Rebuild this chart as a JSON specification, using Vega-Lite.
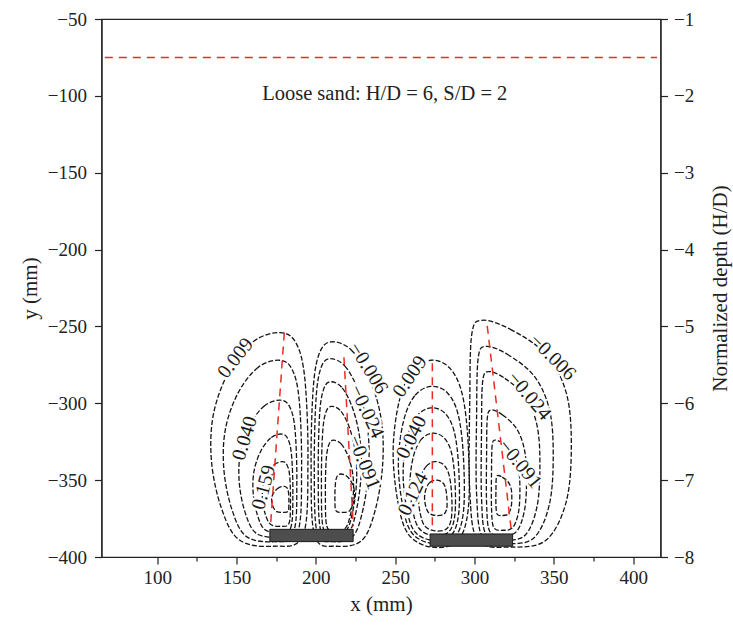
{
"$schema": "https://vega.github.io/schema/vega-lite/v6.json",
"width": 559, "height": 538,
"autosize": "none",
"padding": {"left": 101.5, "top": 19, "right": 72.5, "bottom": 68},
"config": {"font": "Liberation Serif", "view": {"stroke": "#222", "strokeWidth": 1.2},
  "axis": {"grid": false, "domainColor": "#222", "domainWidth": 1.2, "tickColor": "#222", "tickWidth": 1.2, "labelColor": "#222", "titleColor": "#222", "labelFontSize": 19, "titleFontSize": 21, "titleFontWeight": "normal", "labelFlush": false, "labelOverlap": false}},
"datasets": {
"contours": [
{"c":"A1","i":0,"x":177.6,"y":-254},{"c":"A1","i":1,"x":160.9,"y":-259.6},{"c":"A1","i":2,"x":145.4,"y":-279},{"c":"A1","i":3,"x":135.5,"y":-306.8},{"c":"A1","i":4,"x":134.2,"y":-337.4},{"c":"A1","i":5,"x":140.4,"y":-368},{"c":"A1","i":6,"x":151.6,"y":-388.8},{"c":"A1","i":7,"x":173.3,"y":-393},{"c":"A1","i":8,"x":191.9,"y":-386},{"c":"A1","i":9,"x":195,"y":-337.4},{"c":"A1","i":10,"x":193.1,"y":-284.6},{"c":"A1","i":11,"x":187.6,"y":-261},
{"c":"A2","i":0,"x":177,"y":-272},{"c":"A2","i":1,"x":163.5,"y":-276.7},{"c":"A2","i":2,"x":151,"y":-293.2},{"c":"A2","i":3,"x":143,"y":-316.8},{"c":"A2","i":4,"x":142,"y":-342.8},{"c":"A2","i":5,"x":147,"y":-368.8},{"c":"A2","i":6,"x":156,"y":-386.5},{"c":"A2","i":7,"x":173.5,"y":-390},{"c":"A2","i":8,"x":188.5,"y":-384.1},{"c":"A2","i":9,"x":191,"y":-342.8},{"c":"A2","i":10,"x":189.5,"y":-298},{"c":"A2","i":11,"x":185,"y":-277.9},
{"c":"A3","i":0,"x":177.6,"y":-298},{"c":"A3","i":1,"x":167.7,"y":-301.6},{"c":"A3","i":2,"x":158.4,"y":-314},{"c":"A3","i":3,"x":152.5,"y":-331.8},{"c":"A3","i":4,"x":151.7,"y":-351.4},{"c":"A3","i":5,"x":155.4,"y":-371},{"c":"A3","i":6,"x":162.1,"y":-384.3},{"c":"A3","i":7,"x":175,"y":-387},{"c":"A3","i":8,"x":186.2,"y":-382.6},{"c":"A3","i":9,"x":188,"y":-351.4},{"c":"A3","i":10,"x":186.9,"y":-317.6},{"c":"A3","i":11,"x":183.6,"y":-302.5},
{"c":"A4","i":0,"x":178.4,"y":-320},{"c":"A4","i":1,"x":171.5,"y":-322.6},{"c":"A4","i":2,"x":165.1,"y":-331.5},{"c":"A4","i":3,"x":161,"y":-344.3},{"c":"A4","i":4,"x":160.5,"y":-358.4},{"c":"A4","i":5,"x":163.1,"y":-372.5},{"c":"A4","i":6,"x":167.7,"y":-382.1},{"c":"A4","i":7,"x":176.6,"y":-384},{"c":"A4","i":8,"x":184.2,"y":-380.8},{"c":"A4","i":9,"x":185.5,"y":-358.4},{"c":"A4","i":10,"x":184.7,"y":-334.1},{"c":"A4","i":11,"x":182.4,"y":-323.2},
{"c":"A5","i":0,"x":179,"y":-338},{"c":"A5","i":1,"x":174.1,"y":-339.7},{"c":"A5","i":2,"x":169.6,"y":-345.6},{"c":"A5","i":3,"x":166.7,"y":-354},{"c":"A5","i":4,"x":166.4,"y":-363.2},{"c":"A5","i":5,"x":168.2,"y":-372.4},{"c":"A5","i":6,"x":171.4,"y":-378.7},{"c":"A5","i":7,"x":177.7,"y":-380},{"c":"A5","i":8,"x":183.1,"y":-378},{"c":"A5","i":9,"x":184,"y":-363.2},{"c":"A5","i":10,"x":183.5,"y":-347.2},{"c":"A5","i":11,"x":181.8,"y":-340.1},
{"c":"A6","i":0,"x":179.9,"y":-354},{"c":"A6","i":1,"x":177,"y":-354.7},{"c":"A6","i":2,"x":174.2,"y":-357.1},{"c":"A6","i":3,"x":172.4,"y":-360.5},{"c":"A6","i":4,"x":172.2,"y":-364.2},{"c":"A6","i":5,"x":173.3,"y":-367.9},{"c":"A6","i":6,"x":175.3,"y":-370.5},{"c":"A6","i":7,"x":179.2,"y":-371},{"c":"A6","i":8,"x":182.5,"y":-370.2},{"c":"A6","i":9,"x":183,"y":-364.2},{"c":"A6","i":10,"x":182.7,"y":-357.7},{"c":"A6","i":11,"x":181.7,"y":-354.9},
{"c":"B1","i":0,"x":209.9,"y":-260},{"c":"B1","i":1,"x":222.3,"y":-265.3},{"c":"B1","i":2,"x":233.8,"y":-283.9},{"c":"B1","i":3,"x":241.2,"y":-310.5},{"c":"B1","i":4,"x":242.1,"y":-339.8},{"c":"B1","i":5,"x":237.5,"y":-369.1},{"c":"B1","i":6,"x":229.2,"y":-389},{"c":"B1","i":7,"x":213.1,"y":-393},{"c":"B1","i":8,"x":199.3,"y":-386.4},{"c":"B1","i":9,"x":197,"y":-339.8},{"c":"B1","i":10,"x":198.4,"y":-289.3},{"c":"B1","i":11,"x":202.5,"y":-266.7},
{"c":"B2","i":0,"x":208.8,"y":-271},{"c":"B2","i":1,"x":218.3,"y":-275.8},{"c":"B2","i":2,"x":227,"y":-292.4},{"c":"B2","i":3,"x":232.6,"y":-316.2},{"c":"B2","i":4,"x":233.3,"y":-342.4},{"c":"B2","i":5,"x":229.8,"y":-368.6},{"c":"B2","i":6,"x":223.5,"y":-386.4},{"c":"B2","i":7,"x":211.3,"y":-390},{"c":"B2","i":8,"x":200.8,"y":-384.1},{"c":"B2","i":9,"x":199,"y":-342.4},{"c":"B2","i":10,"x":200.1,"y":-297.2},{"c":"B2","i":11,"x":203.2,"y":-277},
{"c":"B3","i":0,"x":209.2,"y":-286},{"c":"B3","i":1,"x":216.6,"y":-290},{"c":"B3","i":2,"x":223.5,"y":-304.2},{"c":"B3","i":3,"x":227.9,"y":-324.4},{"c":"B3","i":4,"x":228.5,"y":-346.6},{"c":"B3","i":5,"x":225.7,"y":-368.8},{"c":"B3","i":6,"x":220.8,"y":-384},{"c":"B3","i":7,"x":211.1,"y":-387},{"c":"B3","i":8,"x":202.9,"y":-382},{"c":"B3","i":9,"x":201.5,"y":-346.6},{"c":"B3","i":10,"x":202.3,"y":-308.2},{"c":"B3","i":11,"x":204.8,"y":-291.1},
{"c":"B4","i":0,"x":209.8,"y":-302},{"c":"B4","i":1,"x":215.9,"y":-305.3},{"c":"B4","i":2,"x":221.5,"y":-316.9},{"c":"B4","i":3,"x":225.1,"y":-333.5},{"c":"B4","i":4,"x":225.6,"y":-351.8},{"c":"B4","i":5,"x":223.3,"y":-370.1},{"c":"B4","i":6,"x":219.3,"y":-382.5},{"c":"B4","i":7,"x":211.4,"y":-385},{"c":"B4","i":8,"x":204.6,"y":-380.9},{"c":"B4","i":9,"x":203.5,"y":-351.8},{"c":"B4","i":10,"x":204.2,"y":-320.3},{"c":"B4","i":11,"x":206.2,"y":-306.2},
{"c":"B5","i":0,"x":211,"y":-324},{"c":"B5","i":1,"x":215.9,"y":-326.4},{"c":"B5","i":2,"x":220.4,"y":-334.6},{"c":"B5","i":3,"x":223.3,"y":-346.4},{"c":"B5","i":4,"x":223.6,"y":-359.4},{"c":"B5","i":5,"x":221.8,"y":-372.4},{"c":"B5","i":6,"x":218.6,"y":-381.2},{"c":"B5","i":7,"x":212.3,"y":-383},{"c":"B5","i":8,"x":206.9,"y":-380},{"c":"B5","i":9,"x":206,"y":-359.4},{"c":"B5","i":10,"x":206.5,"y":-337},{"c":"B5","i":11,"x":208.2,"y":-327},
{"c":"B6","i":0,"x":215.5,"y":-346},{"c":"B6","i":1,"x":218.9,"y":-347},{"c":"B6","i":2,"x":222,"y":-350.5},{"c":"B6","i":3,"x":224,"y":-355.5},{"c":"B6","i":4,"x":224.3,"y":-361},{"c":"B6","i":5,"x":223,"y":-366.5},{"c":"B6","i":6,"x":220.8,"y":-370.3},{"c":"B6","i":7,"x":216.4,"y":-371},{"c":"B6","i":8,"x":212.6,"y":-369.8},{"c":"B6","i":9,"x":212,"y":-361},{"c":"B6","i":10,"x":212.4,"y":-351.5},{"c":"B6","i":11,"x":213.5,"y":-347.3},
{"c":"C1","i":0,"x":272.4,"y":-272},{"c":"C1","i":1,"x":260.5,"y":-279.3},{"c":"C1","i":2,"x":252.5,"y":-298.7},{"c":"C1","i":3,"x":248.7,"y":-330.3},{"c":"C1","i":4,"x":251.5,"y":-363.1},{"c":"C1","i":5,"x":258.2,"y":-385},{"c":"C1","i":6,"x":272.4,"y":-393.5},{"c":"C1","i":7,"x":288.9,"y":-389.9},{"c":"C1","i":8,"x":296,"y":-369.2},{"c":"C1","i":9,"x":296,"y":-326.7},{"c":"C1","i":10,"x":292.2,"y":-293.9},{"c":"C1","i":11,"x":284.2,"y":-276.9},
{"c":"C2","i":0,"x":272.5,"y":-289},{"c":"C2","i":1,"x":262.3,"y":-295.1},{"c":"C2","i":2,"x":255.3,"y":-311.4},{"c":"C2","i":3,"x":252,"y":-338},{"c":"C2","i":4,"x":254.5,"y":-365.5},{"c":"C2","i":5,"x":260.2,"y":-383.9},{"c":"C2","i":6,"x":272.5,"y":-391},{"c":"C2","i":7,"x":286.9,"y":-387.9},{"c":"C2","i":8,"x":293,"y":-370.6},{"c":"C2","i":9,"x":293,"y":-334.9},{"c":"C2","i":10,"x":289.7,"y":-307.4},{"c":"C2","i":11,"x":282.8,"y":-293.1},
{"c":"C3","i":0,"x":272.5,"y":-303},{"c":"C3","i":1,"x":263.8,"y":-308.2},{"c":"C3","i":2,"x":257.8,"y":-321.9},{"c":"C3","i":3,"x":255,"y":-344.3},{"c":"C3","i":4,"x":257.1,"y":-367.5},{"c":"C3","i":5,"x":262,"y":-383},{"c":"C3","i":6,"x":272.5,"y":-389},{"c":"C3","i":7,"x":284.8,"y":-386.4},{"c":"C3","i":8,"x":290,"y":-371.8},{"c":"C3","i":9,"x":290,"y":-341.7},{"c":"C3","i":10,"x":287.2,"y":-318.5},{"c":"C3","i":11,"x":281.3,"y":-306.4},
{"c":"C4","i":0,"x":273.5,"y":-319.5},{"c":"C4","i":1,"x":266.4,"y":-323.5},{"c":"C4","i":2,"x":261.6,"y":-334.1},{"c":"C4","i":3,"x":259.3,"y":-351.4},{"c":"C4","i":4,"x":261,"y":-369.4},{"c":"C4","i":5,"x":265,"y":-381.3},{"c":"C4","i":6,"x":273.5,"y":-386},{"c":"C4","i":7,"x":283.4,"y":-384},{"c":"C4","i":8,"x":287.6,"y":-372.7},{"c":"C4","i":9,"x":287.6,"y":-349.4},{"c":"C4","i":10,"x":285.3,"y":-331.5},{"c":"C4","i":11,"x":280.5,"y":-322.2},
{"c":"C5","i":0,"x":275,"y":-338},{"c":"C5","i":1,"x":269.8,"y":-340.7},{"c":"C5","i":2,"x":266.2,"y":-347.9},{"c":"C5","i":3,"x":264.5,"y":-359.6},{"c":"C5","i":4,"x":265.8,"y":-371.8},{"c":"C5","i":5,"x":268.7,"y":-379.9},{"c":"C5","i":6,"x":275,"y":-383},{"c":"C5","i":7,"x":282.4,"y":-381.7},{"c":"C5","i":8,"x":285.5,"y":-374},{"c":"C5","i":9,"x":285.5,"y":-358.3},{"c":"C5","i":10,"x":283.8,"y":-346.1},{"c":"C5","i":11,"x":280.3,"y":-339.8},
{"c":"C6","i":0,"x":275.5,"y":-350},{"c":"C6","i":1,"x":272,"y":-351.4},{"c":"C6","i":2,"x":269.6,"y":-355.1},{"c":"C6","i":3,"x":268.5,"y":-361},{"c":"C6","i":4,"x":269.3,"y":-367.3},{"c":"C6","i":5,"x":271.3,"y":-371.4},{"c":"C6","i":6,"x":275.5,"y":-373},{"c":"C6","i":7,"x":280.4,"y":-372.3},{"c":"C6","i":8,"x":282.5,"y":-368.4},{"c":"C6","i":9,"x":282.5,"y":-360.4},{"c":"C6","i":10,"x":281.4,"y":-354.1},{"c":"C6","i":11,"x":279,"y":-350.9},
{"c":"D1","i":0,"x":304.7,"y":-246},{"c":"D1","i":1,"x":322.6,"y":-251.9},{"c":"D1","i":2,"x":345,"y":-268.1},{"c":"D1","i":3,"x":357.8,"y":-293.2},{"c":"D1","i":4,"x":361,"y":-327.1},{"c":"D1","i":5,"x":357.8,"y":-364},{"c":"D1","i":6,"x":345,"y":-389.1},{"c":"D1","i":7,"x":322.6,"y":-393.5},{"c":"D1","i":8,"x":302.1,"y":-389.1},{"c":"D1","i":9,"x":297,"y":-356.6},{"c":"D1","i":10,"x":297,"y":-297.6},{"c":"D1","i":11,"x":298.3,"y":-254.9},
{"c":"D2","i":0,"x":307.1,"y":-263},{"c":"D2","i":1,"x":320.6,"y":-268.1},{"c":"D2","i":2,"x":337.5,"y":-282.2},{"c":"D2","i":3,"x":347.2,"y":-304.1},{"c":"D2","i":4,"x":349.6,"y":-333.6},{"c":"D2","i":5,"x":347.2,"y":-365.6},{"c":"D2","i":6,"x":337.5,"y":-387.5},{"c":"D2","i":7,"x":320.6,"y":-391.3},{"c":"D2","i":8,"x":305.2,"y":-387.5},{"c":"D2","i":9,"x":301.3,"y":-359.2},{"c":"D2","i":10,"x":301.3,"y":-307.9},{"c":"D2","i":11,"x":302.3,"y":-270.7},
{"c":"D3","i":0,"x":308.8,"y":-279.4},{"c":"D3","i":1,"x":319.1,"y":-283.8},{"c":"D3","i":2,"x":332,"y":-295.8},{"c":"D3","i":3,"x":339.4,"y":-314.5},{"c":"D3","i":4,"x":341.2,"y":-339.7},{"c":"D3","i":5,"x":339.4,"y":-367.1},{"c":"D3","i":6,"x":332,"y":-385.7},{"c":"D3","i":7,"x":319.1,"y":-389},{"c":"D3","i":8,"x":307.3,"y":-385.7},{"c":"D3","i":9,"x":304.4,"y":-361.6},{"c":"D3","i":10,"x":304.4,"y":-317.8},{"c":"D3","i":11,"x":305.1,"y":-286},
{"c":"D4","i":0,"x":310.6,"y":-304.3},{"c":"D4","i":1,"x":317.7,"y":-307.6},{"c":"D4","i":2,"x":326.5,"y":-316.5},{"c":"D4","i":3,"x":331.5,"y":-330.4},{"c":"D4","i":4,"x":332.8,"y":-349.1},{"c":"D4","i":5,"x":331.5,"y":-369.5},{"c":"D4","i":6,"x":326.5,"y":-383.4},{"c":"D4","i":7,"x":317.7,"y":-385.8},{"c":"D4","i":8,"x":309.6,"y":-383.4},{"c":"D4","i":9,"x":307.6,"y":-365.4},{"c":"D4","i":10,"x":307.6,"y":-332.8},{"c":"D4","i":11,"x":308.1,"y":-309.2},
{"c":"D5","i":0,"x":312.8,"y":-324},{"c":"D5","i":1,"x":317.9,"y":-326.3},{"c":"D5","i":2,"x":324.1,"y":-332.8},{"c":"D5","i":3,"x":327.7,"y":-342.8},{"c":"D5","i":4,"x":328.6,"y":-356.2},{"c":"D5","i":5,"x":327.7,"y":-370.9},{"c":"D5","i":6,"x":324.1,"y":-380.8},{"c":"D5","i":7,"x":317.9,"y":-382.6},{"c":"D5","i":8,"x":312.1,"y":-380.8},{"c":"D5","i":9,"x":310.7,"y":-368},{"c":"D5","i":10,"x":310.7,"y":-344.5},{"c":"D5","i":11,"x":311.1,"y":-327.5},
{"c":"D6","i":0,"x":314.7,"y":-347},{"c":"D6","i":1,"x":317.5,"y":-348},{"c":"D6","i":2,"x":321,"y":-350.9},{"c":"D6","i":3,"x":323,"y":-355.3},{"c":"D6","i":4,"x":323.5,"y":-361.3},{"c":"D6","i":5,"x":323,"y":-367.8},{"c":"D6","i":6,"x":321,"y":-372.2},{"c":"D6","i":7,"x":317.5,"y":-373},{"c":"D6","i":8,"x":314.3,"y":-372.2},{"c":"D6","i":9,"x":313.5,"y":-366.5},{"c":"D6","i":10,"x":313.5,"y":-356.1},{"c":"D6","i":11,"x":313.7,"y":-348.6}
],
"reds": [
{"x":180.1,"y":-254,"x2":171.5,"y2":-378.4},
{"x":217.7,"y":-270,"x2":223.6,"y2":-380},
{"x":273.4,"y":-274,"x2":273.4,"y2":-381},
{"x":308,"y":-249.6,"x2":323.4,"y2":-384.7},
{"x":67,"y":-75,"x2":415,"y2":-75}
],
"plates": [
{"x":171,"x2":223.5,"y":-390,"y2":-382},
{"x":272,"x2":324,"y":-393,"y2":-385}
],
"labels": [
{"t":"0.009","x":149.4,"y":-270.6,"a":-52},
{"t":"0.040","x":155.3,"y":-322.8,"a":-73},
{"t":"0.159","x":167.2,"y":-354.7,"a":-75},
{"t":"−0.006","x":233,"y":-277.1,"a":58},
{"t":"−0.024","x":232,"y":-305.4,"a":65},
{"t":"−0.091","x":230.3,"y":-338.4,"a":68},
{"t":"0.009","x":259.3,"y":-282.6,"a":-56},
{"t":"0.040","x":260.3,"y":-322.1,"a":-64},
{"t":"0.124","x":261.3,"y":-359.1,"a":-64},
{"t":"−0.006","x":349.2,"y":-270,"a":45},
{"t":"−0.024","x":334.4,"y":-295.2,"a":50},
{"t":"−0.091","x":328.6,"y":-339.5,"a":51}
],
"note": [{"t":"Loose sand: H/D = 6, S/D = 2","x":243.4,"y":-102.8}],
"rax": [{"d":-8},{"d":-1}]
},
"layer": [
{"layer": [
 {"data": {"name": "contours"},
  "mark": {"type": "line", "interpolate": "cardinal-closed", "color": "#151515", "strokeWidth": 1.3, "strokeDash": [5, 2]},
  "encoding": {
   "x": {"field": "x", "type": "quantitative", "scale": {"domain": [64.9, 417.2], "nice": false, "zero": false},
     "axis": {"title": "x (mm)", "values": [100,125,150,175,200,225,250,275,300,325,350,375,400],
       "labelExpr": "datum.value % 50 === 0 ? datum.label : ''",
       "tickSize": {"condition": {"test": "datum.value % 50 === 0", "value": 7}, "value": 4},
       "labelPadding": 4, "titlePadding": 6}},
   "y": {"field": "y", "type": "quantitative", "scale": {"domain": [-400, -50], "nice": false, "zero": false},
     "axis": {"title": "y (mm)", "values": [-400,-375,-350,-325,-300,-275,-250,-225,-200,-175,-150,-125,-100,-75,-50],
       "labelExpr": "datum.value % 50 === 0 ? datum.label : ''",
       "tickSize": {"condition": {"test": "datum.value % 50 === 0", "value": 7}, "value": 4},
       "labelPadding": 8, "titlePadding": 7}},
   "detail": {"field": "c"},
   "order": {"field": "i", "type": "quantitative"}
  }},
 {"data": {"name": "labels"},
  "mark": {"type": "text", "fontSize": 20, "align": "center", "baseline": "middle", "stroke": "white", "strokeWidth": 5, "fill": "white"},
  "encoding": {"x": {"field": "x", "type": "quantitative"}, "y": {"field": "y", "type": "quantitative"}, "text": {"field": "t"}, "angle": {"field": "a", "type": "quantitative", "scale": null}}},
 {"data": {"name": "labels"},
  "mark": {"type": "text", "fontSize": 20, "align": "center", "baseline": "middle", "color": "#1a1a1a"},
  "encoding": {"x": {"field": "x", "type": "quantitative"}, "y": {"field": "y", "type": "quantitative"}, "text": {"field": "t"}, "angle": {"field": "a", "type": "quantitative", "scale": null}}},
 {"data": {"name": "reds"},
  "mark": {"type": "rule", "color": "#ee2a24", "strokeWidth": 1.5, "strokeDash": [8, 6]},
  "encoding": {"x": {"field": "x", "type": "quantitative"}, "y": {"field": "y", "type": "quantitative"}, "x2": {"field": "x2"}, "y2": {"field": "y2"}}},
 {"data": {"name": "plates"},
  "mark": {"type": "rect", "fill": "#4d4d4d", "stroke": "#1a1a1a", "strokeWidth": 1},
  "encoding": {"x": {"field": "x", "type": "quantitative"}, "x2": {"field": "x2"}, "y": {"field": "y", "type": "quantitative"}, "y2": {"field": "y2"}}},
 {"data": {"name": "note"},
  "mark": {"type": "text", "fontSize": 20.5, "align": "center", "baseline": "alphabetic", "color": "#222"},
  "encoding": {"x": {"field": "x", "type": "quantitative"}, "y": {"field": "y", "type": "quantitative"}, "text": {"field": "t"}}}
]},
{"data": {"name": "rax"},
 "mark": {"type": "point", "opacity": 0},
 "encoding": {"y": {"field": "d", "type": "quantitative", "scale": {"domain": [-8, -1], "nice": false, "zero": false},
   "axis": {"orient": "right", "title": "Normalized depth (H/D)", "titleAngle": 270,
     "titleX": 60, "titleY": 269, "titleAlign": "center", "titleBaseline": "middle",
     "values": [-8,-7.5,-7,-6.5,-6,-5.5,-5,-4.5,-4,-3.5,-3,-2.5,-2,-1.5,-1],
     "format": "d",
     "labelExpr": "datum.value % 1 === 0 ? datum.label : ''",
     "tickSize": {"condition": {"test": "datum.value % 1 === 0", "value": 7}, "value": 4},
     "labelPadding": 6}}}}
],
"resolve": {"scale": {"y": "independent"}}
}
